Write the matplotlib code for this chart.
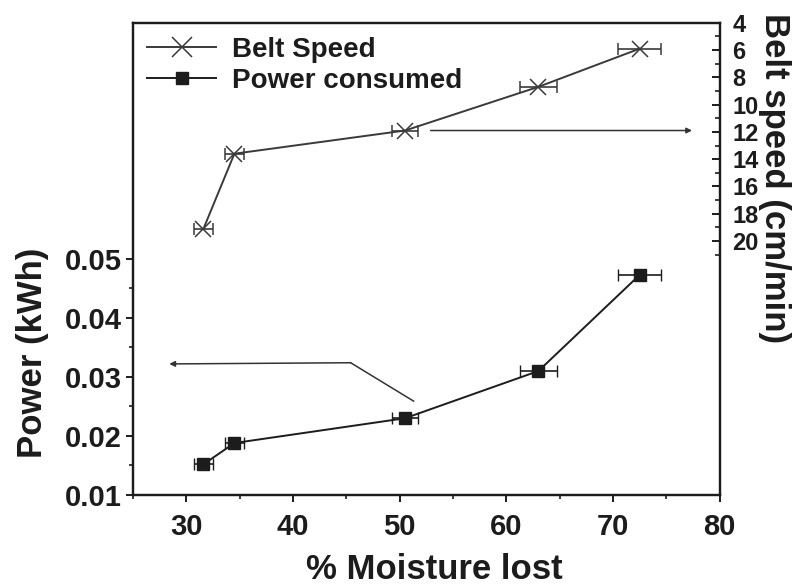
import numpy as np
import matplotlib
matplotlib.use("Agg")
import matplotlib.pyplot as plt
from matplotlib.ticker import MultipleLocator, FixedLocator
from matplotlib.lines import Line2D

plt.rcParams['font.family'] = ['Liberation Sans', 'DejaVu Sans']
plt.rcParams['font.weight'] = 'bold'

# data
moisture = [31.6, 34.5, 50.5, 63.0, 72.5]
moisture_err = [0.9, 0.9, 1.2, 1.7, 2.0]
belt_speed = [19.1, 13.6, 11.9, 8.7, 5.9]
power = [0.0152, 0.0188, 0.0230, 0.0310, 0.0473]

# arrows pointing to the axis each series belongs to
belt_arrow_x = [52.9, 77.4]
belt_arrow_y = 11.9
power_arrow_x = [51.3, 45.4, 28.4]
power_arrow_y = [0.0259, 0.0324, 0.0322]

ink = '#1c1c1c'
belt_col = '#3a3a3a'

fig = plt.figure(figsize=(7.98, 5.86), dpi=100)
ax = fig.add_axes([0.1667, 0.1553, 0.7353, 0.806])
ax2 = ax.twinx()

# left axis : power
ax.errorbar(moisture, power, xerr=moisture_err, color=ink, marker='s',
            markersize=9, lw=1.4, capsize=4, elinewidth=1.2)
ax.set_xlim(25, 80)
ax.set_ylim(0.01, 0.09)
ax.yaxis.set_major_locator(FixedLocator([0.01, 0.02, 0.03, 0.04, 0.05]))
ax.yaxis.set_minor_locator(FixedLocator([0.015, 0.025, 0.035, 0.045]))
ax.xaxis.set_major_locator(MultipleLocator(10))
ax.xaxis.set_minor_locator(MultipleLocator(5))
ax.set_yticklabels(['0.01', '0.02', '0.03', '0.04', '0.05'])
ax.tick_params(which='major', direction='out', length=5, width=1.4,
               labelsize=21, colors=ink)
ax.tick_params(axis='x', pad=8)
ax.tick_params(axis='y', pad=3)
ax.tick_params(which='minor', direction='out', length=3, width=1.2, colors=ink)
for lab in ax.get_xticklabels() + ax.get_yticklabels():
    lab.set_fontweight('bold')

ax.set_xlabel('% Moisture lost', fontsize=25, fontweight='bold', color=ink,
              va='center')
ax.xaxis.set_label_coords(0.513, -0.158)
ax.set_ylabel('Power (kWh)', fontsize=25, fontweight='bold', color=ink,
              va='center')
ax.yaxis.set_label_coords(-0.172, 0.30)

ax.plot(power_arrow_x[:2], power_arrow_y[:2], color='#333333', lw=1.1)
ax.annotate('', xy=(power_arrow_x[2], power_arrow_y[2]),
            xytext=(power_arrow_x[1], power_arrow_y[1]),
            arrowprops=dict(arrowstyle='-|>', color='#333333', lw=1.1,
                            mutation_scale=8, shrinkA=0, shrinkB=0))

# right axis : belt speed (inverted)
ax2.errorbar(moisture, belt_speed, xerr=moisture_err, color=belt_col, marker='x',
             markersize=11, markeredgewidth=1.1, lw=1.4, capsize=4,
             elinewidth=1.2)
ax2.set_ylim(38.6, 4)
ax2.yaxis.set_major_locator(FixedLocator(np.arange(4, 21, 2)))
ax2.yaxis.set_minor_locator(FixedLocator(np.arange(5, 22, 1)))
ax2.tick_params(which='major', direction='in', length=6, width=1.4,
                labelsize=17, colors=ink, pad=9)
ax2.tick_params(which='minor', direction='in', length=3.5, width=1.2, colors=ink)
for lab in ax2.get_yticklabels():
    lab.set_fontweight('bold')
ax2.set_ylabel('Belt speed (cm/min)', fontsize=25, fontweight='bold',
               color=ink, rotation=270, va='center')
ax2.yaxis.set_label_coords(1.094, 0.671)

ax2.annotate('', xy=(belt_arrow_x[1], belt_arrow_y),
             xytext=(belt_arrow_x[0], belt_arrow_y),
             arrowprops=dict(arrowstyle='-|>', color='#333333', lw=1.1,
                             mutation_scale=8, shrinkA=0, shrinkB=0))

for a in (ax, ax2):
    for s in a.spines.values():
        s.set_linewidth(1.6)
        s.set_color(ink)

handles = [Line2D([], [], color=belt_col, marker='x', markersize=14,
                  markeredgewidth=1.1, lw=1.4),
           Line2D([], [], color=ink, marker='s', markersize=9, lw=1.4)]
leg = ax2.legend(handles, ['Belt Speed', 'Power consumed'], loc='upper left',
                 frameon=False, fontsize=20, handlelength=2.5,
                 handletextpad=0.55, labelspacing=0.2, borderaxespad=0.1,
                 bbox_to_anchor=(0.0, 1.0))
for t in leg.get_texts():
    t.set_fontweight('bold')
    t.set_color(ink)

fig.savefig('out.png', dpi=100)
